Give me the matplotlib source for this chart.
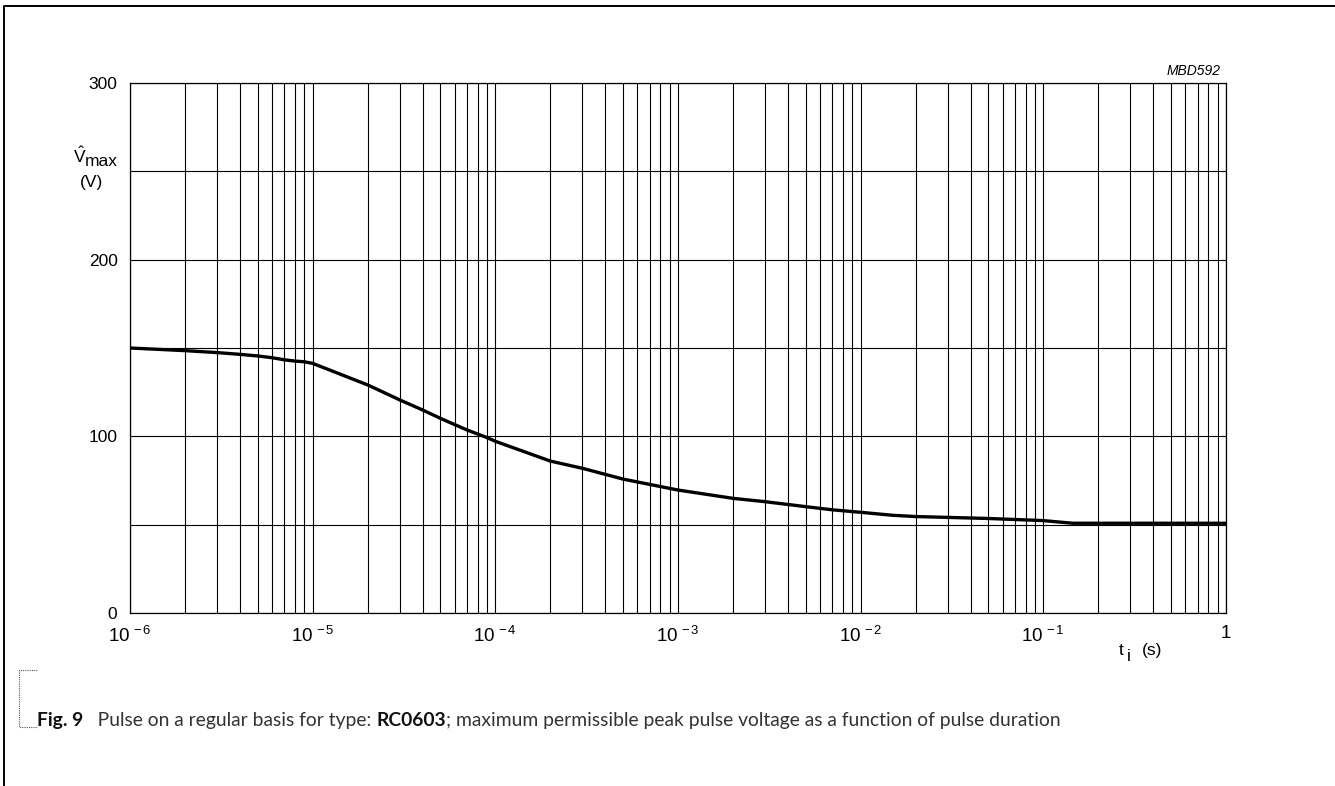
import numpy as np
import matplotlib
matplotlib.use("Agg")
import matplotlib.pyplot as plt
from matplotlib.lines import Line2D
from matplotlib.ticker import FixedLocator, LogLocator, NullFormatter

# ---------------------------------------------------------
# Data
# ---------------------------------------------------------
pulse_time = [1e-6, 2e-6, 3e-6, 4e-6, 5e-6, 6e-6, 7e-6, 8e-6, 9e-6, 1e-5,
              2e-5, 3e-5, 4e-5, 5e-5, 6e-5, 7e-5, 9e-5, 1e-4, 2e-4, 3e-4,
              5e-4, 1e-3, 2e-3, 3e-3, 5e-3, 7e-3, 1e-2, 1.5e-2, 2e-2, 5e-2,
              1e-1, 1.45e-1, 3e-1, 1.0]
v_max = [150.0, 148.5, 147.4, 146.4, 145.5, 144.5, 143.3, 142.6, 142.2, 141.3,
         129.1, 120.6, 114.9, 110.2, 106.6, 103.6, 99.3, 97.2, 86.0, 81.9,
         75.8, 69.6, 64.9, 63.0, 60.2, 58.4, 57.0, 55.3, 54.6, 53.5,
         52.3, 50.8, 50.8, 50.8]

x_ticks = [1e-6, 1e-5, 1e-4, 1e-3, 1e-2, 1e-1, 1]
x_tick_labels = [r"$10^{\,-6}$", r"$10^{\,-5}$", r"$10^{\,-4}$", r"$10^{\,-3}$",
                 r"$10^{\,-2}$", r"$10^{\,-1}$", "1"]
y_ticks = [0, 100, 200, 300]
y_grid = [0, 50, 100, 150, 200, 250, 300]

caption_parts = [("Fig. 9", "bold"),
                 ("   Pulse on a regular basis for type: ", "normal"),
                 ("RC0603", "bold"),
                 ("; maximum permissible peak pulse voltage as a function of pulse duration", "normal")]

# ---------------------------------------------------------
# Styling
# ---------------------------------------------------------
plt.rcParams["font.family"] = ["Liberation Sans", "DejaVu Sans"]
plt.rcParams["mathtext.fontset"] = "custom"
plt.rcParams["mathtext.rm"] = "Liberation Sans"
plt.rcParams["mathtext.it"] = "Liberation Sans:italic"

W, H = 1335, 786
fig = plt.figure(figsize=(W / 100, H / 100), dpi=100)

def px(x, y):
    return x / W, 1 - y / H

ax = fig.add_axes([130 / W, 1 - 613 / H, (1226 - 130) / W, (613 - 83) / H])
ax.set_xscale("log")
ax.set_xlim(1e-6, 1)
ax.set_ylim(0, 300)

# grid lines (major + minor decades, every 50 V)
ax.xaxis.set_major_locator(FixedLocator(x_ticks))
ax.xaxis.set_minor_locator(LogLocator(base=10, subs=np.arange(2, 10)))
ax.xaxis.set_minor_formatter(NullFormatter())
ax.set_xticklabels(x_tick_labels)
ax.yaxis.set_major_locator(FixedLocator(y_ticks))
ax.yaxis.set_minor_locator(FixedLocator(y_grid))
ax.grid(True, which="both", color="black", linewidth=0.8)
ax.tick_params(which="both", length=0)
ax.tick_params(axis="x", labelsize=13.5, pad=9)
ax.tick_params(axis="y", labelsize=12.5, pad=9)
for s in ax.spines.values():
    s.set_linewidth(0.9)

ax.plot(pulse_time, v_max, color="black", linewidth=2.4,
        solid_capstyle="butt", solid_joinstyle="round")

# y-axis label: V-hat max (V)
fig.text(*px(73, 163), r"$\hat{\mathrm{V}}$", fontsize=12.5, ha="left", va="baseline")
fig.text(*px(84.5, 166), "max", fontsize=12.5, ha="left", va="baseline")
fig.text(*px(91.5, 187), "(V)", fontsize=12.5, ha="center", va="baseline")

# x-axis label
fig.text(*px(1119, 655), "t", fontsize=12.5, ha="left", va="baseline")
fig.text(*px(1127, 661), "i", fontsize=12.5, ha="left", va="baseline")
fig.text(*px(1142, 655), "(s)", fontsize=12.5, ha="left", va="baseline")

# drawing reference code
fig.text(*px(1221, 75), "MBD592", fontsize=10, style="italic", ha="right", va="baseline")

# page border (top and left)
fig.add_artist(Line2D([4 / W, 4 / W, 1], [0, 1 - 6 / H, 1 - 6 / H],
                      transform=fig.transFigure, color="black", linewidth=1.4))
# dotted bracket next to caption
fig.add_artist(Line2D([37 / W, 19 / W, 19 / W, 37 / W],
                      [1 - 670 / H, 1 - 670 / H, 1 - 727 / H, 1 - 727 / H],
                      transform=fig.transFigure, color="#555555", linewidth=0.8,
                      linestyle=(0, (1, 1))))

# caption built from pieces (mixed bold / normal)
fig.canvas.draw()
renderer = fig.canvas.get_renderer()
x_cur = 37
for txt, weight in caption_parts:
    t = fig.text(*px(x_cur, 726), txt, fontsize=13.9, fontweight=weight,
                 family=["Lato", "DejaVu Sans"], ha="left", va="baseline",
                 color="#111111" if weight == "bold" else "#333333")
    bb = t.get_window_extent(renderer=renderer)
    x_cur += bb.width

fig.savefig("out.png", dpi=100)
